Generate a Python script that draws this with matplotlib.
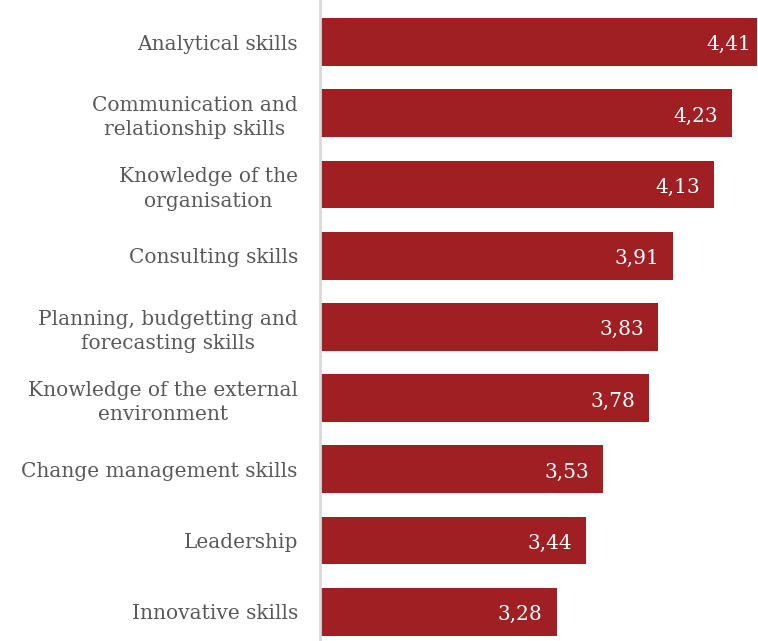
import matplotlib
matplotlib.use('Agg')
import matplotlib.pyplot as plt

skills = ['Analytical skills',
          'Communication and\nrelationship skills',
          'Knowledge of the\norganisation',
          'Consulting skills',
          'Planning, budgetting and\nforecasting skills',
          'Knowledge of the external\nenvironment',
          'Change management skills',
          'Leadership',
          'Innovative skills']
scores = [4.41, 4.23, 4.13, 3.91, 3.83, 3.78, 3.53, 3.44, 3.28]

bar_color = '#A01F22'
xmin, xmax = 2.0, 4.365

plt.rcParams['font.family'] = ['DejaVu Serif']

fig = plt.figure(figsize=(7.58, 6.41), dpi=100)
ax = fig.add_axes([320 / 758, 0, 437 / 758, 1])

pos = list(range(len(skills)))
ax.barh(pos, scores, left=0, height=0.67, color=bar_color)
ax.set_xlim(xmin, xmax)
ax.set_ylim(len(skills) - 1 + 0.41, -0.59)

for p, v in zip(pos, scores):
    ax.annotate('{:.2f}'.format(v).replace('.', ','), xy=(v, p),
                xytext=(-10, -2), textcoords='offset points',
                ha='right', va='center', color='white', fontsize=14.5,
                annotation_clip=False)

ax.set_yticks(pos)
ax.set_yticklabels(skills, fontsize=14.5, color='#595959', linespacing=1.35,
                   multialignment='center')
ax.tick_params(axis='y', length=0, pad=16)
ax.set_xticks([])

for s in ['top', 'right', 'bottom']:
    ax.spines[s].set_visible(False)
ax.spines['left'].set_color('#d9d9d9')
ax.spines['left'].set_linewidth(2)

fig.savefig('out.png', dpi=100)
